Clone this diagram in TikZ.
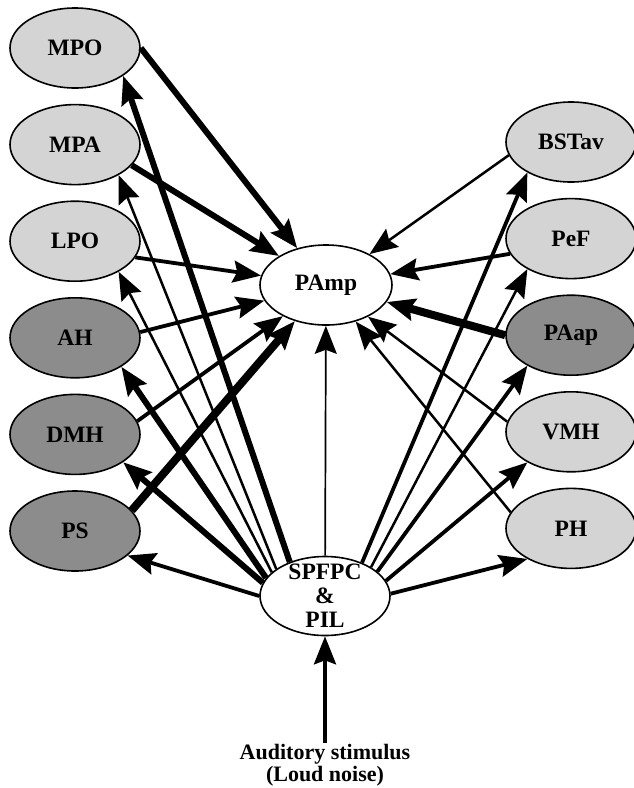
\documentclass[tikz,border=0pt]{standalone}
\usepackage{fontspec}
\setmainfont{Liberation Serif}
\usepackage{tikz}
\usetikzlibrary{shapes.geometric, arrows.meta, calc, positioning}
\definecolor{lightfill}{gray}{0.83}
\definecolor{darkfill}{gray}{0.55}
\tikzstyle{area} = [ellipse, draw=black, line width=1.6pt, minimum width=130pt, minimum height=80pt, inner sep=0pt, text centered, font=\fontsize{23.5}{24}\selectfont\bfseries]
\tikzstyle{light} = [area, fill=lightfill]
\tikzstyle{dark} = [area, fill=darkfill]
\tikzstyle{hub} = [area, fill=white, inner ysep=-12pt, align=center]
\tikzstyle{arrow} = [->, >={Stealth[length=28pt, width=22pt, inset=4pt]}]
\tikzstyle{faint} = [line width=1.7pt]
\tikzstyle{weak} = [line width=2.5pt]
\tikzstyle{mid} = [line width=3.8pt]
\tikzstyle{strong} = [line width=6pt]
\tikzstyle{vstrong} = [line width=8pt]

\begin{document}
\begin{tikzpicture}[x=1pt, y=-1pt, node distance = 15pt, auto]
	\useasboundingbox (0,0) rectangle (634,788);
	\node (MPO) [light] at (75,48) {MPO};
	\node (MPA) [light, below = of MPO] {MPA};
	\node (LPO) [light, below = of MPA] {LPO};
	\node (AH) [dark, below = of LPO] {AH};
	\node (DMH) [dark, below = of AH] {DMH};
	\node (PS) [dark, below = of DMH] {PS};
	\node (BSTav) [light] at (571,142) {BSTav};
	\node (PeF) [light, below = of BSTav] {PeF};
	\node (PAap) [dark, below = of PeF] {PAap};
	\node (VMH) [light, below = of PAap] {VMH};
	\node (PH) [light, below = of VMH] {PH};
	\node (PAmp) [area, fill=white, minimum width=132pt] at (326,285) {PAmp};
	\node (SPFPC) [hub, minimum height=79pt] at (325,596) {SPFPC\\\&\\PIL};
	\node (Stimulus) [align=center, inner sep=1pt, font=\fontsize{22}{22.5}\selectfont\bfseries] at (325,765) {Auditory stimulus\\(Loud noise)};
	\draw [arrow, strong] (MPO.east) -- (PAmp);
	\draw [arrow, strong] (MPA.-20) -- (PAmp);
	\draw [arrow, mid] (LPO.-15) -- (PAmp);
	\draw [arrow, mid] (AH.5) -- (PAmp);
	\draw [arrow, mid] (DMH.12) -- (PAmp);
	\draw [arrow, vstrong] (PS.20) -- (PAmp);
	\draw [arrow, weak] (BSTav.192) -- (PAmp);
	\draw [arrow, mid] (PeF.194) -- (PAmp);
	\draw [arrow, vstrong] (PAap.west) -- (PAmp);
	\draw [arrow, weak] (VMH.171) -- (PAmp);
	\draw [arrow, weak] (PH.165) -- (PAmp);
	\draw [arrow, strong] (SPFPC.136) -- (MPO.-30);
	\draw [arrow, weak] (SPFPC.151) -- (MPA.-35);
	\draw [arrow, weak] (SPFPC.156) -- (LPO.-35);
	\draw [arrow, strong] (SPFPC.163) -- (AH.-32);
	\draw [arrow, strong] (SPFPC.168) -- (DMH.-30);
	\draw [arrow, mid] (SPFPC.west) -- (PS.-25);
	\draw [arrow, faint] (SPFPC) -- (PAmp);
	\draw [arrow, mid] (SPFPC.42) -- (BSTav.215);
	\draw [arrow, weak] (SPFPC.32) -- (PeF.215);
	\draw [arrow, mid] (SPFPC.25) -- (PAap.215);
	\draw [arrow, mid] (SPFPC.14) -- (VMH.215);
	\draw [arrow, mid] (SPFPC.2) -- (PH.215);
	\draw [arrow, mid] (Stimulus) -- (SPFPC);
\end{tikzpicture}
\end{document}
